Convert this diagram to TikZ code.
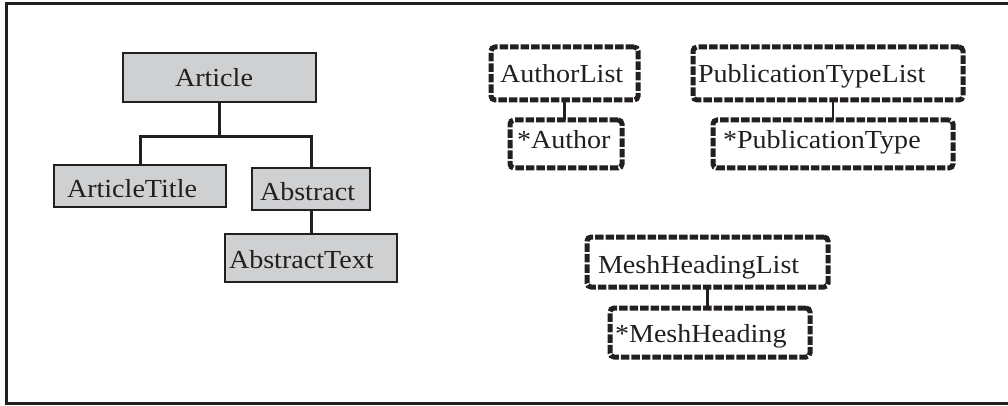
\documentclass[tikz,border=0pt]{standalone}
\usepackage{fontspec}
\usepackage{graphicx}
\setmainfont{Liberation Serif}
\definecolor{ink}{HTML}{231F20}
\definecolor{boxgray}{HTML}{CFD0D2}
% labels are set slightly wider than the face's natural proportions
\newcommand{\widelabel}[1]{\scalebox{1.08}[1]{#1}}
\begin{document}
\begin{tikzpicture}[x=1pt,y=-1pt,
  every node/.style={font=\fontsize{26}{32}\selectfont, text=ink, anchor=north west,
    inner ysep=0pt, outer sep=0pt, align=left},
  geom/.style n args={4}{inner xsep=#1pt, text width=#2pt, text height=#3pt, text depth=#4pt},
  element/.style={draw=ink, fill=boxgray, line width=2.9pt},
  optional/.style={draw=ink, line width=5pt, dash pattern=on 8.5pt off 2pt, rounded corners=4pt},
  link/.style={draw=ink, line width=3pt},
  thinlink/.style={draw=ink, line width=2.6pt}]
\useasboundingbox (0,0) rectangle (1008,406);

% open outer frame
\draw[ink, line width=3pt] (1010,4) -- (6.5,4) -- (6.5,403.5) -- (1010,403.5);

% element tree
\node[element, geom={52}{89}{34}{15}]   (article)  at (123,53)  {\widelabel{Article}};
\node[element, geom={13}{146}{32}{10}]  (title)    at (54,165)  {\widelabel{ArticleTitle}};
\node[element, geom={8}{102}{32}{10}]   (abstract) at (252,168) {\widelabel{Abstract}};
\node[element, geom={4}{164}{34}{14}]   (abstext)  at (225,234) {\widelabel{AbstractText}};

\coordinate (bus) at (article.south |- 0,137);
\draw[link] (article.south) -- (bus);
\draw[link] (title.north) |- (bus) -| (abstract.north);
\draw[link] (abstract.south) -- (abstext.north);

% optional list groups
\node[optional, geom={9}{129}{36}{17}]  (authlist) at (491,47)  {\widelabel{AuthorList}};
\node[optional, geom={7}{98}{29}{19}]   (author)   at (510,120) {\widelabel{*Author}};
\node[optional, geom={5}{260}{36}{17}]  (ptlist)   at (693,47)  {\widelabel{PublicationTypeList}};
\node[optional, geom={10}{220}{29}{19}] (ptype)    at (713,120) {\widelabel{*PublicationType}};
\node[optional, geom={11}{219}{36}{14}] (meshlist) at (587,237) {\widelabel{MeshHeadingList}};
\node[optional, geom={5}{190}{34}{15}]  (mesh)     at (610,308) {\widelabel{*MeshHeading}};

\draw[thinlink] (authlist.south) -- (authlist.south |- author.north);
\draw[thinlink] (ptype.north |- ptlist.south) -- (ptype.north);
\draw[thinlink] (meshlist.south) -- (meshlist.south |- mesh.north);
\end{tikzpicture}
\end{document}
